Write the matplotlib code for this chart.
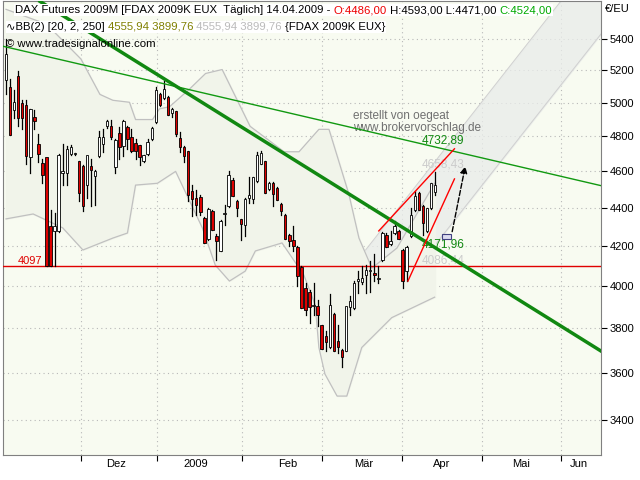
import numpy as np
import matplotlib
matplotlib.use('Agg')
import matplotlib.pyplot as plt
from matplotlib.ticker import FixedLocator, NullFormatter, NullLocator

plt.rcParams['font.family'] = ['Liberation Sans', 'DejaVu Sans']

# daily OHLC, FDAX 2009K, late Oct 2008 .. 14.04.2009
opens = [5140, 5094, 4957, 5160, 4998, 4986, 4682, 4910, 4755, 4643,
         4676, 4304, 4278, 4278, 4588, 4588, 4699, 4699, 4654, 4626,
         4523, 4626, 4571, 4688, 4755, 4858, 4858, 4626, 4818, 4744,
         4852, 4795, 4761, 4744, 4660, 4699, 4784, 4881, 5052, 5028,
         5034, 4939, 4945, 4790, 4738, 4710, 4490, 4452, 4458, 4346,
         4236, 4383, 4252, 4175, 4367, 4410, 4550, 4436, 4336, 4309,
         4452, 4447, 4544, 4643, 4654, 4501, 4533, 4506, 4420, 4362,
         4257, 4231, 4195, 4094, 3991, 3972, 3905, 3905, 3812, 3762,
         3717, 3863, 3740, 3699, 3699, 3901, 3896, 4025, 4020, 4054,
         4074, 4064, 4035, 4129, 4257, 4210, 4267, 4278, 4180, 4074,
         4252, 4388, 4479, 4410, 4278, 4399, 4486]
highs = [5400, 5145, 5076, 5197, 5016, 5016, 4962, 4957, 4812, 4671,
         4676, 4388, 4372, 4700, 4755, 4744, 4750, 4705, 4660, 4632,
         4688, 4671, 4604, 4830, 4841, 4898, 4898, 4785, 4852, 4898,
         4860, 4841, 4784, 4750, 4690, 4784, 4852, 5094, 5058, 5130,
         5040, 4968, 4950, 4825, 4745, 4716, 4523, 4495, 4468, 4351,
         4399, 4390, 4262, 4336, 4415, 4599, 4560, 4440, 4340, 4450,
         4566, 4566, 4710, 4716, 4660, 4540, 4540, 4510, 4425, 4365,
         4260, 4304, 4200, 4100, 4015, 3980, 4015, 3934, 3815, 3790,
         3960, 3870, 3817, 3705, 3901, 3955, 4025, 4074, 4099, 4104,
         4124, 4160, 4099, 4270, 4265, 4278, 4330, 4285, 4185, 4200,
         4399, 4490, 4485, 4415, 4400, 4533, 4593]
lows = [5050, 4807, 4910, 4858, 4841, 4643, 4588, 4841, 4654, 4533,
        4097, 4097, 4097, 4270, 4523, 4523, 4690, 4690, 4436, 4383,
        4452, 4410, 4415, 4680, 4710, 4850, 4784, 4588, 4671, 4688,
        4727, 4710, 4671, 4632, 4650, 4690, 4775, 4875, 4980, 5020,
        4928, 4915, 4800, 4710, 4654, 4436, 4356, 4362, 4362, 4216,
        4230, 4283, 4129, 4175, 4309, 4405, 4463, 4356, 4231, 4252,
        4426, 4426, 4540, 4640, 4479, 4495, 4410, 4442, 4362, 4236,
        4200, 4175, 4000, 3896, 3863, 3826, 3863, 3812, 3704, 3699,
        3710, 3699, 3690, 3625, 3695, 3863, 3890, 3967, 4010, 3967,
        3972, 4025, 4015, 4124, 4195, 4205, 4260, 4236, 3991, 4025,
        4245, 4383, 4388, 4257, 4270, 4395, 4471]
closes = [5300, 4807, 5004, 4910, 4910, 4688, 4962, 4887, 4699, 4577,
          4097, 4097, 4304, 4688, 4599, 4721, 4733, 4702, 4479, 4410,
          4688, 4604, 4599, 4795, 4795, 4887, 4795, 4778, 4738, 4887,
          4784, 4716, 4716, 4682, 4688, 4767, 4847, 5076, 4986, 5082,
          4928, 4957, 4812, 4738, 4688, 4468, 4447, 4415, 4378, 4216,
          4394, 4283, 4226, 4330, 4370, 4577, 4463, 4399, 4315, 4447,
          4468, 4566, 4688, 4699, 4479, 4533, 4474, 4442, 4383, 4236,
          4226, 4200, 4049, 3896, 3886, 3901, 3910, 3863, 3704, 3740,
          3910, 3699, 3717, 3672, 3901, 3929, 4015, 4035, 4040, 4079,
          4077, 4054, 4038, 4267, 4195, 4226, 4304, 4236, 4025, 4195,
          4362, 4463, 4388, 4320, 4399, 4533, 4524]

# Bollinger bands
bb_up_idx = [0, 10, 18.5, 23.2, 26.4, 30.5, 32, 36.2, 37.9, 40.4, 45.3, 49.3, 53.4,
             60.3, 68.7, 72.4, 77.3, 79.8, 84.7, 87.2, 90.4, 96.6, 100.2, 105.9]
bb_up = [5600, 5500, 5272, 5050, 5014, 5002, 4898, 4898, 4962, 4975, 5082, 5180, 5205,
         4858, 4710, 4710, 4840, 4840, 4474, 4241, 4089, 4190, 4320, 4533]
bb_lo_idx = [0, 6.7, 14, 19, 26.4, 30, 32, 37.4, 41.9, 48.5, 51.7, 55.2, 59.1, 61.6,
             68.2, 73.6, 76.4, 77.3, 78.8, 81.8, 84.2, 87.9, 95.3, 105.9]
bb_lo = [4341, 4367, 4294, 4180, 4241, 4267, 4523, 4533, 4599, 4294, 4104, 4025, 4074, 4175,
         4216, 4054, 3910, 3713, 3595, 3500, 3500, 3713, 3850, 3947]

# drawn trend lines: (idx, price) pairs
thin_green = ([-0.7, 147], [5354, 4520])
thick_green = ([8.4, 147], [5654, 3697])
red_up1 = ([92.1, 110.8], [4278, 4727])
red_up2 = ([99.3, 110.8], [4025, 4557])
chan_x = [82.3, 152]
chan_top = [4012, 6210]
chan_bot = [3626, 5607]
arrow_from = (110.1, 4260)
arrow_to = (113.6, 4643)
support = 4097

month_bounds = [18.5, 37.4, 58.4, 78.1, 97.8, 117.5, 137.2]
month_pos = [27.1, 46.8, 69.5, 88.4, 107.6, 127.3, 141.6]
month_lab = ['Dez', '2009', 'Feb', 'Mär', 'Apr', 'Mai', 'Jun']
yticks = list(range(3400, 5600, 200))

fig = plt.figure(figsize=(6.4, 4.8), dpi=100)
ax = fig.add_axes([0.005, 0.052, 0.934, 0.945])
ax.set_facecolor('#f8fbf1')
ax.set_yscale('log')
ax.set_xlim(-0.7, 147)
ax.set_ylim(3258, 5654)

# grid
for v in month_bounds:
    ax.axvline(v, color='#b8b8b8', lw=0.8, ls=(0, (1, 3)), zorder=0)
for v in yticks:
    ax.axhline(v, color='#b8b8b8', lw=0.8, ls=(0, (1, 3)), zorder=0)

# channel
ax.fill_between(chan_x, chan_bot, chan_top, color='#e9ecea', alpha=0.75, zorder=1)
ax.plot(chan_x, chan_top, color='#d0d0d0', lw=0.7, zorder=1)
ax.plot(chan_x, chan_bot, color='#d0d0d0', lw=0.7, zorder=1)

# bollinger
xs = np.arange(0, 106.5, 0.5)
up_i = np.interp(xs, bb_up_idx, bb_up)
lo_i = np.interp(xs, bb_lo_idx, bb_lo)
ax.fill_between(xs, lo_i, up_i, color='#f1f4ea', zorder=1)
ax.plot(bb_up_idx, bb_up, color='#c0c0c0', lw=0.9, zorder=2)
ax.plot(bb_lo_idx, bb_lo, color='#c0c0c0', lw=0.9, zorder=2)

ax.axhline(support, color='#e00000', lw=1, zorder=3)
ax.text(3.0, support + 12, '4097', color='#e00000', fontsize=8, zorder=6)

# candles
for i, (o, h, l, c) in enumerate(zip(opens, highs, lows, closes)):
    ax.plot([i, i], [l, h], color='black', lw=0.9, zorder=4)
    red = c < o
    ax.bar(i, abs(c - o) + 2, bottom=min(o, c), width=0.6,
           color='#dd0000' if red else 'white', edgecolor='black', lw=0.6, zorder=5)

ax.plot(*thin_green, color='#119911', lw=1, zorder=6)
ax.plot(*thick_green, color='#118811', lw=2.5, zorder=6)
ax.plot(*red_up1, color='#ff0000', lw=1, zorder=6)
ax.plot(*red_up2, color='#ff0000', lw=1, zorder=6)
ax.annotate('', xy=arrow_to, xytext=arrow_from,
            arrowprops=dict(arrowstyle='-|>', color='black', lw=1, ls='--'), zorder=7)
ax.bar(108.9, 24, bottom=4236, width=2.2, color='#dcdcf0', edgecolor='#404080', lw=0.8, zorder=7)

ax.text(113.2, 4760, '4732,89', color='#118811', fontsize=8.5, ha='right')
ax.text(113.2, 4620, '4658,43', color='#cccccc', fontsize=8.5, ha='right')
ax.text(113.2, 4195, '4171,96', color='#118811', fontsize=8.5, ha='right')
ax.text(113.2, 4110, '4086,44', color='#cccccc', fontsize=8.5, ha='right')
ax.text(85.8, 4900, 'erstellt von oegeat', color='#707070', fontsize=8.5)
ax.text(85.8, 4830, 'www.brokervorschlag.de', color='#707070', fontsize=8.5)

# axes / ticks
ax.yaxis.tick_right()
ax.yaxis.set_major_locator(FixedLocator(yticks))
ax.yaxis.set_minor_locator(NullLocator())
ax.set_yticklabels([str(v) for v in yticks], fontsize=8)
ax.tick_params(axis='y', which='major', length=4, pad=2)
ax.xaxis.set_major_locator(FixedLocator(month_bounds))
ax.xaxis.set_major_formatter(NullFormatter())
ax.xaxis.set_minor_locator(FixedLocator(month_pos))
ax.set_xticklabels(month_lab, minor=True, fontsize=8)
ax.tick_params(axis='x', which='minor', length=0, pad=3)
ax.tick_params(axis='x', which='major', length=4)
for s in ax.spines.values():
    s.set_color('#808080')
fig.text(0.945, 0.975, '€/EU', fontsize=8)

# header
fs = 8.2
bb = dict(facecolor='white', edgecolor='none', pad=0.5)
t = ax.text(0.02, 0.992, 'DAX Futures 2009M [FDAX 2009K EUX  Täglich] 14.04.2009 - ',
            transform=ax.transAxes, fontsize=fs, va='top', bbox=bb, zorder=10)
for s, col in [('O:4486,00', '#ee0000'), (' H:4593,00 L:4471,00 ', 'black'), ('C:4524,00', '#00aa00')]:
    t = ax.annotate(s, xy=(1, 0), xycoords=t, fontsize=fs, color=col, va='bottom',
                    bbox=bb, zorder=10)
t = ax.text(0.005, 0.955, '∿BB(2) [20, 2, 250] ', transform=ax.transAxes, fontsize=fs,
            va='top', bbox=bb, zorder=10)
for s, col in [('4555,94 3899,76', '#808000'), (' 4555,94 3899,76', '#bbbbbb'),
               (' {FDAX 2009K EUX}', 'black')]:
    t = ax.annotate(s, xy=(1, 0), xycoords=t, fontsize=fs, color=col, va='bottom',
                    bbox=bb, zorder=10)
ax.text(0.005, 0.918, '© www.tradesignalonline.com', transform=ax.transAxes, fontsize=fs,
        va='top', zorder=10)

fig.savefig('out.png', dpi=100)
